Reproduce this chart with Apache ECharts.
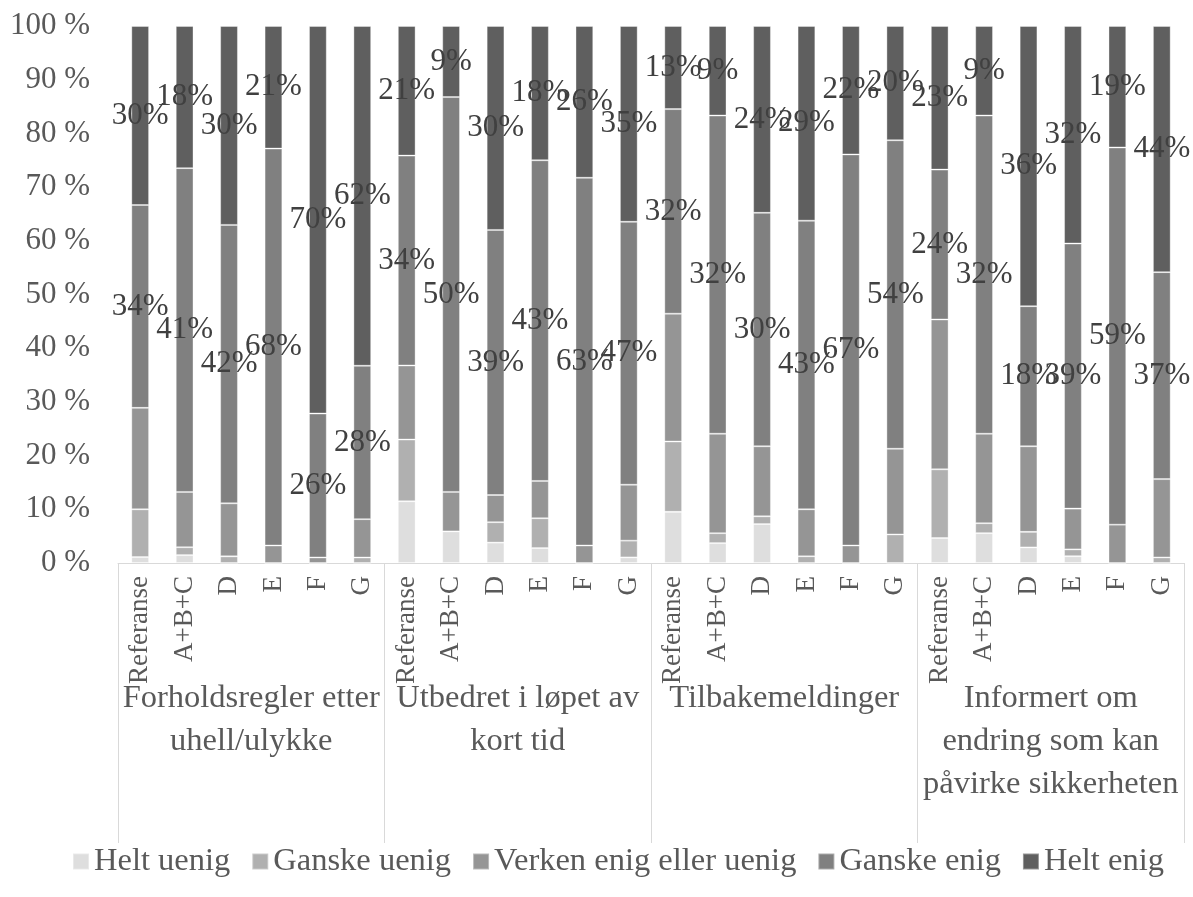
<!DOCTYPE html>
<html><head><meta charset="utf-8">
<script src="https://cdn.jsdelivr.net/npm/echarts@6/dist/echarts.min.js"></script>
<style>html,body{margin:0;padding:0;background:#fff}#c{width:1193px;height:897px}</style>
</head><body><div id="c"></div>
<script>
const groups = ['Forholdsregler etter\nuhell/ulykke', 'Utbedret i løpet av\nkort tid', 'Tilbakemeldinger', 'Informert om\nendring som kan\npåvirke sikkerheten'];
const subCategories = ['Referanse', 'A+B+C', 'D', 'E', 'F', 'G'];
const categories = [].concat(subCategories, subCategories, subCategories, subCategories);
const seriesNames = ['Helt uenig', 'Ganske uenig', 'Verken enig eller uenig', 'Ganske enig', 'Helt enig'];
const yTicks = [0, 10, 20, 30, 40, 50, 60, 70, 80, 90, 100];

// Raw response shares (%) per bar; the chart shows them as a 100 % stack
const heltUenig   = [1, 1, 0, 0, 0, 0,   10, 4, 3, 2, 0, 1,   8, 2, 5, 0, 0, 0,   4, 3, 2, 1, 0, 0];
const ganskeUenig = [8, 1, 1, 0, 0, 1,   10, 0, 3, 4, 0, 3,   11, 1, 1, 1, 0, 5,  11, 1, 2, 1, 0, 1];
const verken      = [17, 7, 8, 3, 1, 7,  12, 5, 4, 5, 3, 10,  20, 10, 9, 7, 3, 15, 24, 9, 11, 6, 6, 14];
const ganskeEnig  = [34, 41, 42, 68, 26, 28, 34, 50, 39, 43, 63, 47, 32, 32, 30, 43, 67, 54, 24, 32, 18, 39, 59, 37];
const heltEnig    = [30, 18, 30, 21, 70, 62, 21, 9, 30, 18, 26, 35, 13, 9, 24, 29, 22, 20, 23, 9, 36, 32, 19, 44];

const raw = [heltUenig, ganskeUenig, verken, ganskeEnig, heltEnig];
const totals = categories.map((_, i) => raw.reduce((s, a) => s + a[i], 0));
const colors = ['#dedede', '#b0b0b0', '#959595', '#808080', '#5f5f5f'];
const showLabel = [false, false, false, true, true];
const FONT = '"Liberation Serif", "Times New Roman", serif';

const chart = echarts.init(document.getElementById('c'), null, {renderer: 'canvas'});
const series = raw.map((arr, k) => ({
  name: seriesNames[k],
  type: 'bar',
  stack: 'total',
  xAxisIndex: 0,
  barWidth: '40%',
  data: arr.map((v, i) => v / totals[i] * 100),
  itemStyle: {color: colors[k], borderColor: 'rgba(255,255,255,0.35)', borderWidth: 1},
  label: {
    show: showLabel[k],
    position: 'inside',
    formatter: p => raw[k][p.dataIndex] + '%',
    fontFamily: FONT,
    fontSize: 31,
    color: '#404040'
  },
  emphasis: {disabled: true}
}));

chart.setOption({
  animation: false,
  color: colors,
  grid: {left: 118, right: 9, top: 26, bottom: 334, containLabel: false, outerBoundsMode: 'none'},
  legend: {
    data: seriesNames,
    left: 67,
    top: 840,
    icon: 'rect',
    itemWidth: 16,
    itemHeight: 16,
    itemGap: 21,
    textStyle: {fontFamily: FONT, fontSize: 32.5, color: '#595959', lineHeight: 32}
  },
  xAxis: [
    {
      type: 'category',
      data: categories,
      position: 'bottom',
      axisLine: {show: true, lineStyle: {color: '#d9d9d9', width: 1}},
      axisTick: {show: false},
      axisLabel: {interval: 0, rotate: 90, margin: 13, fontFamily: FONT, fontSize: 27, color: '#595959'}
    },
    {
      type: 'category',
      data: groups,
      position: 'bottom',
      axisLine: {show: false},
      axisTick: {show: true, interval: 0, length: 280, lineStyle: {color: '#d9d9d9', width: 1}},
      axisLabel: {interval: 0, margin: 114, fontFamily: FONT, fontSize: 32.5, lineHeight: 43, color: '#595959', verticalAlign: 'top'}
    }
  ],
  yAxis: {
    type: 'value',
    min: yTicks[0],
    max: yTicks[yTicks.length - 1],
    interval: 10,
    axisLine: {show: false},
    axisTick: {show: false},
    splitLine: {show: false},
    axisLabel: {formatter: v => v + ' %', margin: 28, fontFamily: FONT, fontSize: 31, color: '#595959'}
  },
  series: series
});
</script>
</body></html>
